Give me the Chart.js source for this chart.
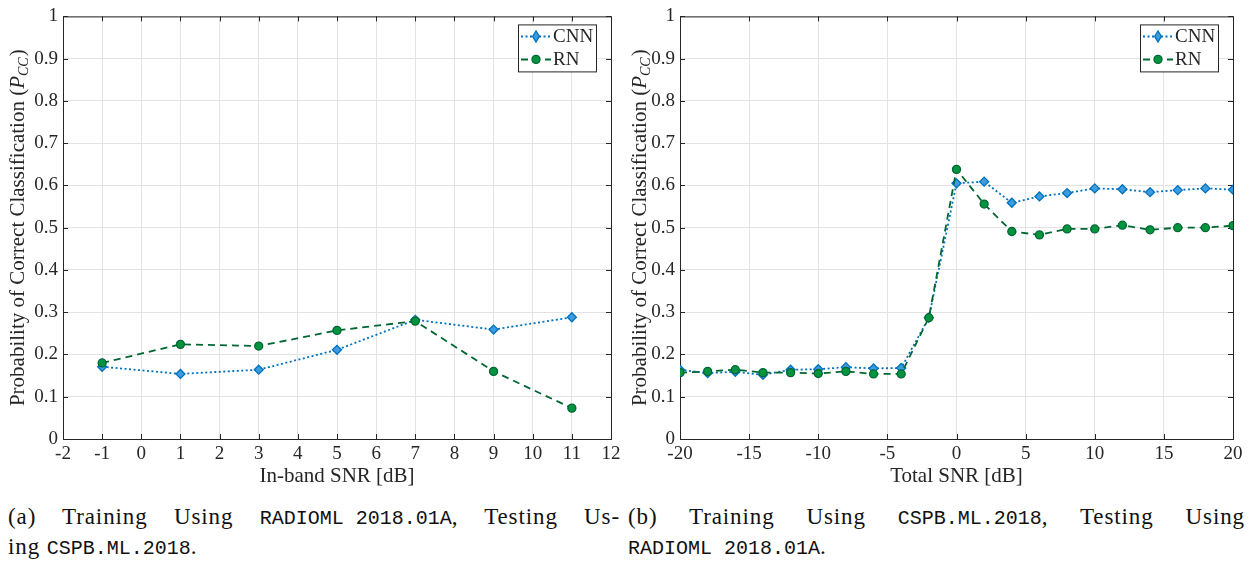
<!DOCTYPE html>
<html>
<head>
<meta charset="utf-8">
<script src="https://cdn.jsdelivr.net/npm/chart.js@4"></script>
<style>
  html, body { margin: 0; padding: 0; background: #fff; }
  body { width: 1255px; height: 569px; position: relative; overflow: hidden; }
  .panel { position: absolute; top: 0; height: 490px; }
  .cap { position: absolute; font-family: "Liberation Serif", serif; font-size: 23px; letter-spacing: 0.9px; color: #111; line-height: 28px; }
  .cap .l1 { text-align: justify; text-align-last: justify; }
  .tt { font-family: "Liberation Mono", monospace; font-size: 20px; letter-spacing: 0; display: inline-block; white-space: pre; }
</style>
</head>
<body>
<div class="panel" style="left:0;width:625px"><canvas id="chartA"></canvas></div>
<div class="panel" style="left:625px;width:630px"><canvas id="chartB"></canvas></div>
<div class="cap" style="left:8px;top:503px;width:612px">
  <div class="l1">(a) Training Using <span class="tt">RADIOML 2018.01A</span>, Testing Us-</div>
  <div>ing <span class="tt">CSPB.ML.2018</span>.</div>
</div>
<div class="cap" style="left:628px;top:503px;width:617px">
  <div class="l1">(b) Training Using <span class="tt">CSPB.ML.2018</span>, Testing Using</div>
  <div><span class="tt">RADIOML 2018.01A</span>.</div>
</div>
<script>
// in-band SNR sweep (left panel)
const snrInBand = [-1, 1, 3, 5, 7, 9, 11];
const cnnInBand = [0.171, 0.154, 0.164, 0.211, 0.282, 0.259, 0.288];
const rnInBand = [0.180, 0.224, 0.220, 0.257, 0.279, 0.160, 0.073];

// total SNR sweep (right panel)
const snrTotal = [-20, -18, -16, -14, -12, -10, -8, -6, -4, -2, 0, 2, 4, 6, 8, 10, 12, 14, 16, 18, 20];
const cnnTotal = [0.164, 0.156, 0.159, 0.152, 0.164, 0.165, 0.170, 0.167, 0.168, 0.287, 0.605,
  0.609, 0.559, 0.574, 0.582, 0.593, 0.591, 0.584, 0.589, 0.593, 0.590];
const rnTotal = [0.157, 0.160, 0.164, 0.157, 0.157, 0.155, 0.160, 0.154, 0.154, 0.287, 0.638,
  0.556, 0.491, 0.483, 0.497, 0.497, 0.506, 0.495, 0.500, 0.500, 0.505];

const seriesNames = ["CNN", "RN"];
const yTitle = "Probability of Correct Classification (";

const INK = "#262626";
const GRID = "#e3e3e3";
const FONT = "'Liberation Serif', 'Times New Roman', serif";

const cnnStyle = { line: "#0072BD", fill: "#3d9be0", dash: [2, 2.5], point: "rectRot", radius: 4.5 };
const rnStyle = { line: "#006633", fill: "#00943f", dash: [7, 5], point: "circle", radius: 4 };

function drawMarker(ctx, style, x, y) {
  ctx.save();
  ctx.setLineDash([]);
  ctx.fillStyle = style.fill;
  ctx.strokeStyle = style.line;
  ctx.lineWidth = 1.3;
  ctx.beginPath();
  if (style.point === "rectRot") {
    const r = style.radius;
    ctx.moveTo(x, y - r - 1);
    ctx.lineTo(x + r * 0.75, y);
    ctx.lineTo(x, y + r + 1);
    ctx.lineTo(x - r * 0.75, y);
    ctx.closePath();
  } else {
    ctx.arc(x, y, style.radius, 0, Math.PI * 2);
  }
  ctx.fill();
  ctx.stroke();
  ctx.restore();
}

// box around the axes with inward ticks on all four sides
const axesBox = {
  id: "axesBox",
  beforeDatasetsDraw(chart) {
    const { ctx, chartArea: a, scales } = chart;
    ctx.save();
    ctx.strokeStyle = INK;
    ctx.lineWidth = 1;
    ctx.strokeRect(a.left + 0.5, a.top + 0.5, a.right - a.left, a.bottom - a.top);
    const len = 5;
    ctx.beginPath();
    scales.x.ticks.forEach((t) => {
      const px = Math.round(scales.x.getPixelForValue(t.value)) + 0.5;
      ctx.moveTo(px, a.bottom); ctx.lineTo(px, a.bottom - len);
      ctx.moveTo(px, a.top); ctx.lineTo(px, a.top + len);
    });
    scales.y.ticks.forEach((t) => {
      const py = Math.round(scales.y.getPixelForValue(t.value)) + 0.5;
      ctx.moveTo(a.left, py); ctx.lineTo(a.left + len, py);
      ctx.moveTo(a.right, py); ctx.lineTo(a.right - len, py);
    });
    ctx.stroke();
    ctx.restore();
  },
};

// rotated y title with italic P and subscript CC
const yAxisTitle = {
  id: "yAxisTitle",
  afterDraw(chart, args, opts) {
    const { ctx, chartArea: a } = chart;
    const big = `21px ${FONT}`, bigIt = `italic 21px ${FONT}`, sub = `italic 14px ${FONT}`;
    ctx.save();
    ctx.fillStyle = INK;
    ctx.textBaseline = "alphabetic";
    ctx.font = big;
    const w1 = ctx.measureText(yTitle).width;
    const w4 = ctx.measureText(")").width;
    ctx.font = bigIt;
    const w2 = ctx.measureText("P").width;
    ctx.font = sub;
    const w3 = ctx.measureText("CC").width + 1;
    const total = w1 + w2 + w3 + w4;
    ctx.translate(opts.x, (a.top + a.bottom) / 2);
    ctx.rotate(-Math.PI / 2);
    let x = -total / 2;
    ctx.font = big;
    ctx.fillText(yTitle, x, 0); x += w1;
    ctx.font = bigIt;
    ctx.fillText("P", x, 0); x += w2;
    ctx.font = sub;
    ctx.fillText("CC", x, 4); x += w3;
    ctx.font = big;
    ctx.fillText(")", x, 0);
    ctx.restore();
  },
};

// boxed legend in the top right corner, line sample with marker
const cornerLegend = {
  id: "cornerLegend",
  afterDraw(chart) {
    const { ctx, chartArea: a } = chart;
    const w = 78, h = 47;
    const x0 = a.right - 15 - w, y0 = a.top + 8;
    ctx.save();
    ctx.fillStyle = "#fff";
    ctx.fillRect(x0, y0, w, h);
    ctx.strokeStyle = INK;
    ctx.lineWidth = 1;
    ctx.strokeRect(x0 + 0.5, y0 + 0.5, w, h);
    [cnnStyle, rnStyle].forEach((s, i) => {
      const cy = y0 + 12 + i * 23;
      ctx.strokeStyle = s.line;
      ctx.lineWidth = 2;
      ctx.setLineDash(s.dash);
      ctx.beginPath();
      ctx.moveTo(x0 + 3, cy);
      ctx.lineTo(x0 + 33, cy);
      ctx.stroke();
      drawMarker(ctx, s, x0 + 18, cy);
      ctx.fillStyle = INK;
      ctx.font = `19px ${FONT}`;
      ctx.textBaseline = "middle";
      ctx.fillText(seriesNames[i], x0 + 35, cy + 1);
    });
    ctx.restore();
  },
};

function makeChart(id, xs, cnn, rn, xOpts, layout) {
  const pts = (ys) => xs.map((x, i) => ({ x, y: ys[i] }));
  const ds = (label, ys, s, order) => ({
    label,
    data: pts(ys),
    order,
    borderColor: s.line,
    borderWidth: 1.8,
    borderDash: s.dash,
    backgroundColor: s.fill,
    pointStyle: s.point,
    pointRadius: s.radius,
    pointBorderColor: s.line,
    pointBackgroundColor: s.fill,
    pointBorderWidth: 1.3,
    tension: 0,
  });
  return new Chart(document.getElementById(id), {
    type: "line",
    data: {
      datasets: [ds(seriesNames[0], cnn, cnnStyle, 2), ds(seriesNames[1], rn, rnStyle, 1)],
    },
    plugins: [axesBox, yAxisTitle, cornerLegend],
    options: {
      responsive: true,
      maintainAspectRatio: false,
      animation: false,
      layout: { padding: { top: 6, right: layout.right, left: 0, bottom: 0 } },
      plugins: {
        legend: { display: false },
        tooltip: { enabled: false },
        yAxisTitle: { x: layout.titleX },
      },
      scales: {
        x: {
          type: "linear",
          min: xOpts.min,
          max: xOpts.max,
          border: { display: false },
          grid: { color: GRID, drawTicks: false },
          ticks: { stepSize: xOpts.step, padding: 4, color: INK, font: { family: FONT, size: 19 }, maxRotation: 0 },
          title: { display: true, text: xOpts.title, color: INK, font: { family: FONT, size: 21 }, padding: { top: 0, bottom: 1 } },
          afterFit: (s) => { s.height = 51; },
        },
        y: {
          min: 0,
          max: 1,
          border: { display: false },
          grid: { color: GRID, drawTicks: false },
          ticks: {
            stepSize: 0.1,
            padding: 5,
            color: INK,
            font: { family: FONT, size: 19 },
            callback: (v) => String(Math.round(v * 10) / 10),
          },
          afterFit: (s) => { s.width = layout.yWidth; },
        },
      },
    },
  });
}

makeChart("chartA", snrInBand, cnnInBand, rnInBand,
  { min: -2, max: 12, step: 1, title: "In-band SNR [dB]" },
  { right: 14, yWidth: 63, titleX: 24 });
makeChart("chartB", snrTotal, cnnTotal, rnTotal,
  { min: -20, max: 20, step: 5, title: "Total SNR [dB]" },
  { right: 22, yWidth: 55, titleX: 21 });
</script>
</body>
</html>
